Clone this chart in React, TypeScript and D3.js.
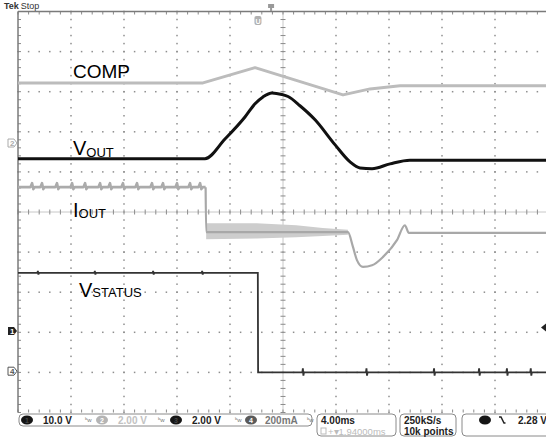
import React, { useEffect, useRef } from 'react';
import * as d3 from 'd3';

// time in ms (4 ms/div, 10 div), vertical in divisions (10 div)
const timeDomain: [number, number] = [-20, 20];
const divDomain: [number, number] = [-5, 5];

const compTrace: [number, number][] = [
  [-20, 3.22], [-6.04, 3.22], [-2.11, 3.6], [4.53, 2.92], [6.57, 3.07], [8.83, 3.15], [20, 3.15],
];

const voutTrace: [number, number][] = [
  [-20, 1.33], [-5.89, 1.33], [-4.38, 1.82], [-2.87, 2.37], [-2.11, 2.7], [-1.51, 2.87], [-0.83, 2.97],
  [-0.08, 2.93], [0.38, 2.88], [1.28, 2.65], [2.42, 2.3], [3.92, 1.68], [5.06, 1.25], [5.81, 1.1],
  [6.72, 1.08], [8.08, 1.2], [9.58, 1.29], [20, 1.29],
];

const ioutTrace: [number, number][] = [
  [-20, 0.62], [-5.84, 0.62], [-5.8, -0.5], [4.9, -0.5], [5.28, -0.87], [5.58, -1.2], [6.04, -1.37],
  [6.72, -1.33], [7.55, -1.12], [8.6, -0.7], [9.2, -0.33], [9.5, -0.52], [20, -0.52],
];

// noisy band of IOUT right after the load step: [t, upper, lower]
const ioutNoise: [number, number, number][] = [
  [-5.8, -0.28, -0.68], [-2, -0.28, -0.66], [1, -0.33, -0.63], [3, -0.4, -0.6], [4.9, -0.44, -0.57],
];

const ioutSpikes = [-18.94, -18.19, -17.06, -15.92, -14.94, -13.81, -13.06, -12.08, -11.02, -9.89, -9.06, -8.0, -7.02, -6.26];

const statusTrace: [number, number][] = [
  [-20, -1.52], [-1.9, -1.52], [-1.88, -4.0], [20, -4.0],
];

const statusSpikes = [-18.5, -14.2, -9.8, -6.1, 1.5, 6.3, 11.4, 14.8, 16.9, 18.7];

const App: React.FC = () => {
  const svgRef = useRef<SVGSVGElement>(null);
  const width = 546;
  const height = 438;

  useEffect(() => {
    if (!svgRef.current) return;
    const svg = d3.select(svgRef.current);
    svg.selectAll('*').remove();

    const x = d3.scaleLinear().domain(timeDomain).range([18, 548]);
    const y = d3.scaleLinear().domain(divDomain).range([412.5, 11.5]);

    svg.append('rect').attr('width', width).attr('height', height).attr('fill', '#fff');

    // --- graticule ---
    const grid = svg.append('g');
    const minorT = d3.range(-20, 20.01, 0.8);
    const minorV = d3.range(-5, 5.01, 0.2);
    const majorT = d3.range(-16, 17, 4).filter(d => d !== 0);
    const majorV = d3.range(-4, 5, 1).filter(d => d !== 0);

    majorT.forEach(t => {
      minorV.forEach(v => {
        grid.append('rect').attr('x', x(t) - 0.75).attr('y', y(v) - 0.75).attr('width', 1.5).attr('height', 1.5).attr('fill', '#8e8e8e');
      });
    });
    majorV.forEach(v => {
      minorT.forEach(t => {
        grid.append('rect').attr('x', x(t) - 0.75).attr('y', y(v) - 0.75).attr('width', 1.5).attr('height', 1.5).attr('fill', '#8e8e8e');
      });
    });

    // centre cross with ticks
    grid.append('line').attr('x1', x(-20)).attr('x2', x(20)).attr('y1', y(0)).attr('y2', y(0)).attr('stroke', '#c8c8c8');
    grid.append('line').attr('x1', x(0)).attr('x2', x(0)).attr('y1', y(5)).attr('y2', y(-5)).attr('stroke', '#c8c8c8');
    minorT.forEach(t => {
      grid.append('line').attr('x1', x(t)).attr('x2', x(t)).attr('y1', y(0) - 2.5).attr('y2', y(0) + 2.5).attr('stroke', '#8a8a8a');
      grid.append('line').attr('x1', x(t)).attr('x2', x(t)).attr('y1', y(5)).attr('y2', y(5) + 3).attr('stroke', '#8a8a8a');
      grid.append('line').attr('x1', x(t)).attr('x2', x(t)).attr('y1', y(-5)).attr('y2', y(-5) - 3).attr('stroke', '#8a8a8a');
    });
    minorV.forEach(v => {
      grid.append('line').attr('x1', x(0) - 2.5).attr('x2', x(0) + 2.5).attr('y1', y(v)).attr('y2', y(v)).attr('stroke', '#8a8a8a');
      grid.append('line').attr('x1', x(-20)).attr('x2', x(-20) + 3).attr('y1', y(v)).attr('y2', y(v)).attr('stroke', '#8a8a8a');
    });

    // frame
    grid.append('line').attr('x1', x(-20)).attr('x2', x(20)).attr('y1', y(5)).attr('y2', y(5)).attr('stroke', '#7a7a7a').attr('stroke-width', 1.5);
    grid.append('line').attr('x1', x(-20)).attr('x2', x(-20)).attr('y1', y(5)).attr('y2', y(-5)).attr('stroke', '#7a7a7a').attr('stroke-width', 1.5);

    // --- traces ---
    const line = d3.line<[number, number]>().x(d => x(d[0])).y(d => y(d[1]));
    const smooth = d3.line<[number, number]>().x(d => x(d[0])).y(d => y(d[1])).curve(d3.curveMonotoneX);

    // COMP
    svg.append('path').attr('d', line(compTrace) || '').attr('fill', 'none')
      .attr('stroke', '#bcbcbc').attr('stroke-width', 3).attr('stroke-linejoin', 'round');

    // IOUT noise band
    const band = d3.area<[number, number, number]>().x(d => x(d[0])).y0(d => y(d[2])).y1(d => y(d[1]));
    svg.append('path').attr('d', band(ioutNoise) || '').attr('fill', '#cdcdcd');

    // IOUT: first segment with small spikes, then the rest
    const ioutPre: [number, number][] = [ioutTrace[0]];
    ioutSpikes.forEach(t => {
      ioutPre.push([t - 0.12, 0.62], [t, 0.72], [t + 0.1, 0.57], [t + 0.2, 0.62]);
    });
    ioutPre.push(ioutTrace[1]);
    svg.append('path').attr('d', line(ioutPre) || '').attr('fill', 'none')
      .attr('stroke', '#ababab').attr('stroke-width', 2.6).attr('stroke-linejoin', 'round');
    svg.append('path').attr('d', smooth(ioutTrace.slice(1)) || '').attr('fill', 'none')
      .attr('stroke', '#a8a8a8').attr('stroke-width', 2.2).attr('stroke-linejoin', 'round');

    // VSTATUS with small glitches
    const statusPts: [number, number][] = [];
    statusTrace.forEach((p, i) => {
      statusPts.push(p);
      if (i === 0) {
        statusSpikes.filter(t => t < -1.9).forEach(t => statusPts.push([t - 0.04, -1.52], [t, -1.47], [t + 0.04, -1.56], [t + 0.08, -1.52]));
      }
      if (i === 2) {
        statusSpikes.filter(t => t > -1.88).forEach(t => statusPts.push([t - 0.04, -4.0], [t, -3.9], [t + 0.04, -4.08], [t + 0.08, -4.0]));
      }
    });
    svg.append('path').attr('d', line(statusPts) || '').attr('fill', 'none')
      .attr('stroke', '#333').attr('stroke-width', 1.8);

    // VOUT
    svg.append('path').attr('d', smooth(voutTrace) || '').attr('fill', 'none')
      .attr('stroke', '#111').attr('stroke-width', 3).attr('stroke-linejoin', 'round');

    // --- trace labels ---
    const font = 'Liberation Sans, Arial, sans-serif';
    const lab = svg.append('g').attr('font-family', font).attr('fill', '#000');
    lab.append('text').attr('x', 73).attr('y', 78).attr('font-size', 19).text('COMP');
    const vout = lab.append('text').attr('x', 73).attr('y', 155).attr('font-size', 20);
    vout.append('tspan').text('V');
    vout.append('tspan').attr('font-size', 13).attr('dy', 2).text('OUT');
    const iout = lab.append('text').attr('x', 73).attr('y', 217).attr('font-size', 20);
    iout.append('tspan').text('I');
    iout.append('tspan').attr('font-size', 13).attr('dy', 1).text('OUT');
    const vst = lab.append('text').attr('x', 79).attr('y', 297).attr('font-size', 20);
    vst.append('tspan').text('V');
    vst.append('tspan').attr('font-size', 13).text('STATUS');

    // --- channel markers ---
    const mk = svg.append('g').attr('font-family', font).attr('font-size', 8).attr('font-weight', 'bold');
    mk.append('path').attr('d', `M8,${y(1.72) - 4} h6 l3,4 l-3,4 h-6 z`).attr('fill', '#fff').attr('stroke', '#aaa');
    mk.append('text').attr('x', 10).attr('y', y(1.72) + 3).attr('fill', '#aaa').text('2');
    mk.append('path').attr('d', `M8,${y(-2.97) - 4} h6 l3,4 l-3,4 h-6 z`).attr('fill', '#222');
    mk.append('text').attr('x', 10).attr('y', y(-2.97) + 3).attr('fill', '#fff').text('1');
    mk.append('path').attr('d', `M8,${y(-3.97) - 4} h6 l3,4 l-3,4 h-6 z`).attr('fill', '#fff').attr('stroke', '#555');
    mk.append('text').attr('x', 10).attr('y', y(-3.97) + 3).attr('fill', '#555').text('4');
    // trigger level marker at the right edge
    mk.append('path').attr('d', `M${width},${y(-2.88) - 4} l-5,4 l5,4 z`).attr('fill', '#222');
    // trigger position and U marker at the top
    mk.append('path').attr('d', `M${x(-0.9) - 3},4 h6 v4 h-2 v3 h-2 v-3 h-2 z`).attr('fill', '#999');
    mk.append('rect').attr('x', x(-1.89) - 3.5).attr('y', 16).attr('width', 7).attr('height', 9).attr('rx', 2).attr('fill', '#b0b0b0');
    mk.append('text').attr('x', x(-1.89)).attr('y', 23.5).attr('text-anchor', 'middle').attr('fill', '#fff').attr('font-size', 7).text('U');

    // Tek Stop
    const tek = svg.append('text').attr('x', 4).attr('y', 9).attr('font-family', font).attr('font-size', 9).attr('fill', '#333');
    tek.append('tspan').attr('font-weight', 'bold').text('Tek');
    tek.append('tspan').attr('dx', 2).text('Stop');

    // --- status bar ---
    const bar = svg.append('g').attr('font-family', font).attr('font-size', 10).attr('font-weight', 'bold');
    const boxes = [
      { x0: 19, x1: 312, h: 12 },
      { x0: 317, x1: 396, h: 22 },
      { x0: 400, x1: 456, h: 22 },
      { x0: 462, x1: 552, h: 22 },
    ];
    boxes.forEach(b => {
      bar.append('rect').attr('x', b.x0).attr('y', 414).attr('width', b.x1 - b.x0).attr('height', b.h)
        .attr('rx', 4).attr('fill', '#fff').attr('stroke', '#8a8a8a');
    });

    const chans = [
      { cx: 27, fill: '#151515', num: '1', numFill: '#444', text: '10.0 V', tx: 43, tc: '#222', bw: 85 },
      { cx: 102, fill: '#b4b4b4', num: '2', numFill: '#fff', text: '2.00 V', tx: 118, tc: '#c2c2c2', bw: 158 },
      { cx: 176, fill: '#151515', num: '3', numFill: '#444', text: '2.00 V', tx: 192, tc: '#222', bw: 235 },
      { cx: 251, fill: '#5a5a5a', num: '4', numFill: '#fff', text: '200mA', tx: 265, tc: '#777', bw: 307 },
    ];
    chans.forEach(c => {
      bar.append('ellipse').attr('cx', c.cx).attr('cy', 420).attr('rx', 6).attr('ry', 4.5).attr('fill', c.fill);
      bar.append('text').attr('x', c.cx).attr('y', 423).attr('text-anchor', 'middle').attr('font-size', 7).attr('fill', c.numFill).text(c.num);
      bar.append('text').attr('x', c.tx).attr('y', 424).attr('fill', c.tc).text(c.text);
      bar.append('text').attr('x', c.bw).attr('y', 422).attr('font-size', 6).attr('font-weight', 'normal').attr('fill', '#777').text('ᵇw');
    });

    bar.append('text').attr('x', 321).attr('y', 424).attr('fill', '#222').text('4.00ms');
    bar.append('rect').attr('x', 321).attr('y', 428).attr('width', 5).attr('height', 6).attr('fill', 'none').attr('stroke', '#bbb');
    bar.append('text').attr('x', 328).attr('y', 434.5).attr('fill', '#bbb').attr('font-weight', 'normal').attr('font-size', 9.5).text('+▾1.94000ms');
    bar.append('text').attr('x', 404).attr('y', 424).attr('fill', '#222').text('250kS/s');
    bar.append('text').attr('x', 404).attr('y', 434.5).attr('fill', '#222').text('10k points');
    bar.append('ellipse').attr('cx', 485).attr('cy', 420).attr('rx', 6).attr('ry', 4.5).attr('fill', '#151515');
    bar.append('path').attr('d', 'M499,417 h2 l3,6 h1.5').attr('fill', 'none').attr('stroke', '#222').attr('stroke-width', 1.5);
    bar.append('text').attr('x', 518).attr('y', 424).attr('fill', '#222').text('2.28 V');
  }, []);

  return (
    <svg ref={svgRef} width={width} height={height} style={{ position: 'absolute', left: 0, top: 0, display: 'block' }} />
  );
};

export default App;
